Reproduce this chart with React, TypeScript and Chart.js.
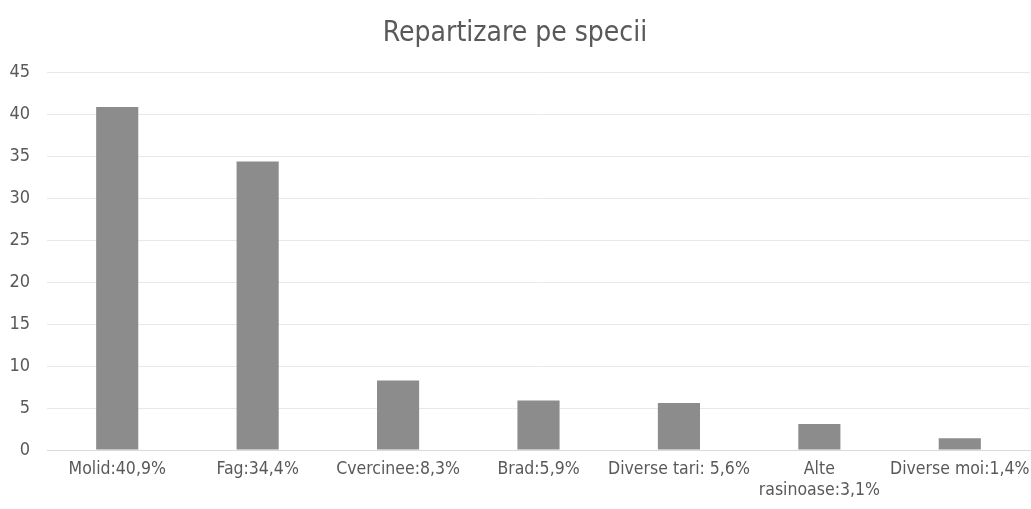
import React, { useEffect, useRef } from "react";
import { Chart, registerables } from "chart.js";

Chart.register(...registerables);

const title = "Repartizare pe specii";
const categories: (string | string[])[] = [
  "Molid:40,9%",
  "Fag:34,4%",
  "Cvercinee:8,3%",
  "Brad:5,9%",
  "Diverse tari: 5,6%",
  ["Alte", "rasinoase:3,1%"],
  "Diverse moi:1,4%",
];
const values = [40.9, 34.4, 8.3, 5.9, 5.6, 3.1, 1.4];
const yMin = 0;
const yMax = 45;
const yStep = 5;

const FONT = "'DejaVu Sans Condensed', 'DejaVu Sans', sans-serif";

export default function App() {
  const ref = useRef<HTMLCanvasElement>(null);
  useEffect(() => {
    const chart = new Chart(ref.current!, {
      type: "bar",
      data: {
        labels: categories,
        datasets: [
          {
            data: values,
            backgroundColor: "#8c8c8c",
            borderWidth: 0,
            categoryPercentage: 1,
            barPercentage: 0.3,
          },
        ],
      },
      options: {
        animation: false,
        responsive: true,
        maintainAspectRatio: false,
        layout: { padding: { left: 0, right: 1, top: 0, bottom: 0 } },
        plugins: {
          legend: { display: false },
          tooltip: { enabled: false },
          title: {
            display: true,
            text: title,
            color: "#595959",
            font: { family: FONT, size: 28, weight: "normal" },
            padding: { top: 17, bottom: 22 },
          },
        },
        scales: {
          x: {
            grid: { display: false, drawTicks: false },
            border: { display: true, color: "#d9d9d9", width: 1 },
            ticks: {
              color: "#595959",
              font: { family: FONT, size: 17.5 },
              padding: 9,
              maxRotation: 0,
              autoSkip: false,
            },
            afterFit: (s: any) => {
              s.height = 59;
              s.paddingLeft = 0;
              s.paddingRight = 0;
            },
          },
          y: {
            min: yMin,
            max: yMax,
            grid: { color: "#e8e8e8", drawTicks: false },
            border: { display: false },
            ticks: {
              stepSize: yStep,
              color: "#595959",
              font: { family: FONT, size: 18 },
              padding: 17,
            },
            afterFit: (s: any) => {
              s.width = 47;
            },
          },
        },
      },
    });
    return () => chart.destroy();
  }, []);
  return (
    <div style={{ position: "fixed", left: 0, top: 0, width: 1031, height: 509, background: "#fff" }}>
      <canvas ref={ref} />
    </div>
  );
}
